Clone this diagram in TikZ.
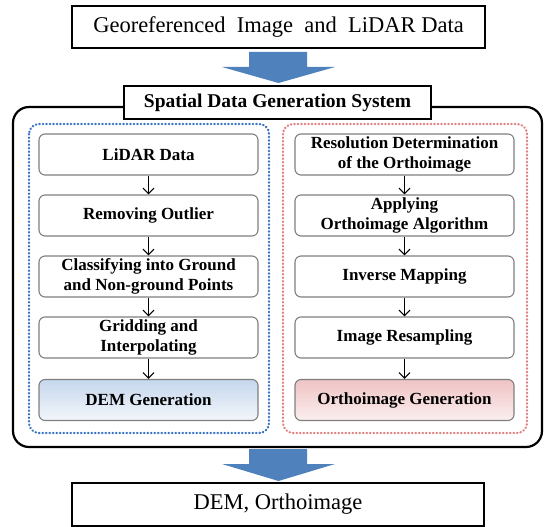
\documentclass[tikz,border=0pt]{standalone}
\usepackage{fontspec}
\setmainfont{Liberation Serif}
\usetikzlibrary{arrows.meta,shapes.geometric}
\definecolor{bigarrow}{HTML}{4F81BD}
\definecolor{bluedot}{HTML}{3A74C4}
\definecolor{reddot}{HTML}{E08080}
\definecolor{demtop}{HTML}{C6D7EC}
\definecolor{dembot}{HTML}{F3F6FB}
\definecolor{orttop}{HTML}{EFC3C3}
\definecolor{ortbot}{HTML}{FBEFEF}
\definecolor{boxgray}{HTML}{7F7F7F}
\tikzset{
  plainbox/.style={draw=black, line width=2pt, fill=white, minimum width=413pt, minimum height=42pt, inner sep=0pt, font=\fontsize{22.5}{26}\selectfont},
  titlebox/.style={draw=black, line width=2pt, fill=white, minimum width=307pt, minimum height=33pt, inner sep=0pt, font=\fontsize{19.5}{22}\selectfont\bfseries},
  stepbox/.style={draw=boxgray, line width=1.1pt, rounded corners=6pt, fill=white, minimum width=219pt, minimum height=41pt, inner sep=0pt, align=center, font=\fontsize{17}{20}\selectfont\bfseries},
  smallarrow/.style={-{Straight Barb[length=5.5pt,width=11pt]}, line width=1.2pt, black},
  dotbox/.style={line width=2.2pt, dash pattern=on 0.6pt off 2.9pt, line cap=round, rounded corners=10pt},
  fatarrow/.style={fill=bigarrow, draw=none}
}
\begin{document}
\begin{tikzpicture}[x=1pt,y=-1pt]
\useasboundingbox (0,0) rectangle (544,527);
% top box
\node[plainbox] (top) at (278.5,27.5) {Georeferenced\ \ Image\ \ and\ \ LiDAR\ Data};
% big arrow 1
\fill[fatarrow] (249,52) -- (307,52) -- (307,67) -- (335,67) -- (278.5,83) -- (222,67) -- (249,67) -- cycle;
% outer box
\draw[line width=2.2pt, rounded corners=16pt] (13,107) rectangle (542,447);
\node[titlebox] (title) at (277.5,102.5) {Spatial Data Generation System};
% dotted boxes
\draw[dotbox, draw=bluedot] (29,124) rectangle (269,433);
\draw[dotbox, draw=reddot] (283,124) rectangle (527,433);
% left column
\node[stepbox] (l1) at (148.5,154.5) {LiDAR Data};
\node[stepbox] (l2) at (148.5,215.5) {Removing Outlier};
\node[stepbox] (l3) at (148.5,276.5) {Classifying into Ground\\and Non-ground Points};
\node[stepbox] (l4) at (148.5,337.5) {Gridding and\\Interpolating};
\node[stepbox, top color=demtop, bottom color=dembot] (l5) at (148.5,400) {DEM Generation};
% right column
\node[stepbox] (r1) at (404.5,154.5) {Resolution Determination\\of the Orthoimage};
\node[stepbox] (r2) at (404.5,215.5) {Applying\\Orthoimage Algorithm};
\node[stepbox] (r3) at (404.5,276.5) {Inverse Mapping};
\node[stepbox] (r4) at (404.5,337.5) {Image Resampling};
\node[stepbox, top color=orttop, bottom color=ortbot] (r5) at (404.5,400) {Orthoimage Generation};
% small arrows
\foreach \a/\b in {l1/l2,l2/l3,l3/l4,l4/l5,r1/r2,r2/r3,r3/r4,r4/r5}{
  \draw[smallarrow] (\a.south) -- (\b.north);
}
% big arrow 2
\fill[fatarrow] (249,449) -- (307,449) -- (307,464) -- (335,464) -- (278.5,481) -- (222,464) -- (249,464) -- cycle;
% bottom box
\node[plainbox, minimum width=412pt, minimum height=43pt] (bot) at (278,504.5) {DEM, Orthoimage};
\end{tikzpicture}
\end{document}
